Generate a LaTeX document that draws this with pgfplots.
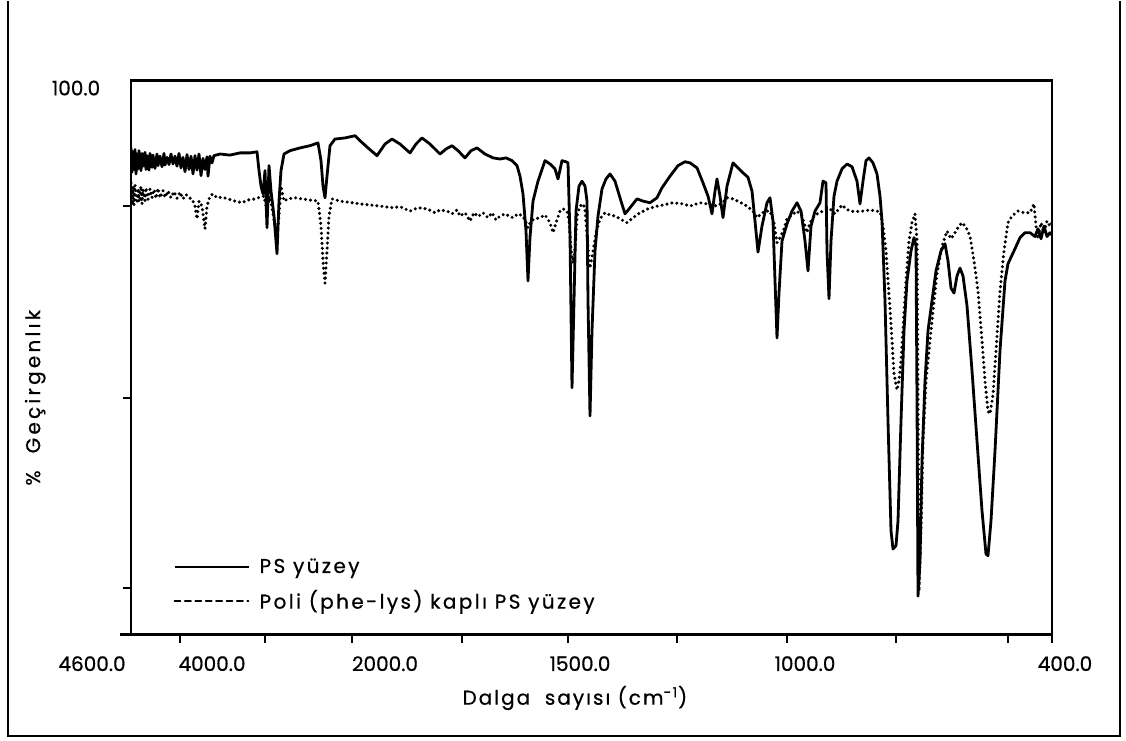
\documentclass[border=0pt]{standalone}
\usepackage{fontspec}
\setmainfont{Poppins}[FakeBold=0.7]
\usepackage{pgfplots}
\pgfplotsset{compat=1.18}
\usepackage{pgfplotstable}

% x: position along the chart's wavenumber scale (4600 at 131, 400 at 1052)
% T: transmittance, per cent
\pgfplotstableread{
x T
131 88.0
132 83.5
133 87.2
134 84.0
135 87.6
136 83.2
137 86.8
138 84.1
139 87.4
141 83.8
142 86.9
143 84.6
145 87.1
146 84.0
147 86.5
149 83.9
150 86.9
152 84.4
153 86.6
155 84.2
157 86.8
158 84.7
160 86.4
162 84.5
164 86.9
165 84.8
167 86.2
169 84.9
171 86.8
173 85.0
175 86.4
177 84.6
179 86.9
181 84.3
183 86.2
185 83.6
187 86.7
189 84.0
191 86.4
193 83.2
195 86.5
197 83.9
199 86.8
201 82.9
203 86.0
205 84.0
207 86.3
208 82.8
210 86.4
212 85.2
214 86.5
220 86.8
230 86.6
240 87.0
250 87.0
257 87.2
259 83.8
261 81.0
263 79.6
265 83.8
267 73.5
269 84.7
271 80.1
274 75.6
277 68.8
279 78.3
281 83.8
284 86.8
290 87.4
300 87.9
310 88.3
318 88.8
321 85.6
323 81.0
325 78.9
327 82.8
330 88.3
335 89.5
345 89.7
355 90.1
360 89.2
368 87.9
377 86.5
385 88.6
392 89.5
400 88.6
410 87.0
416 88.6
422 89.7
430 88.6
440 86.8
446 87.7
452 88.3
458 87.4
465 86.1
471 87.4
477 87.9
485 86.8
493 86.1
500 85.9
506 86.1
512 85.6
517 84.7
520 82.8
523 79.6
526 72.9
528 63.9
530 71.8
533 78.3
538 81.9
545 85.6
550 85.0
555 84.1
558 82.3
562 85.6
566 85.4
568 85.2
570 71.8
572 44.6
574 60.3
576 76.5
579 81.0
582 81.9
585 81.0
587 78.3
588 60.3
590 39.5
592 54.9
595 69.3
598 75.6
602 80.5
606 82.3
610 83.2
615 81.9
620 78.9
625 76.0
630 77.1
637 78.7
643 78.3
650 78.0
657 78.9
662 80.7
670 82.8
678 84.7
685 85.4
690 85.2
697 84.3
703 81.6
708 79.2
712 76.0
715 80.1
717 82.3
720 79.2
723 75.3
727 81.0
733 85.2
738 84.3
743 83.4
748 82.6
752 80.1
755 74.7
758 69.1
762 73.8
767 78.0
770 78.9
773 74.7
775 63.9
777 53.6
779 61.7
782 71.1
787 74.2
792 76.5
797 78.0
801 76.5
805 71.1
808 65.7
811 73.8
815 76.5
820 78.0
823 81.9
826 81.6
827 69.3
829 60.7
831 71.1
834 79.2
837 81.9
842 84.1
847 85.0
852 84.5
857 81.9
860 77.8
863 81.9
866 85.6
869 86.1
873 85.2
877 83.2
880 79.2
882 74.7
885 60.3
888 38.6
891 18.8
893 15.5
896 16.1
898 20.6
901 38.6
904 54.9
907 63.9
911 69.3
914 71.7
916 70.2
917 42.2
918 7.0
920 13.4
922 31.4
925 45.8
928 54.9
932 60.3
936 65.7
941 69.3
945 70.6
948 67.5
951 62.6
954 61.7
957 64.8
960 66.2
963 64.8
967 59.4
972 47.7
977 35.0
982 22.4
986 14.6
988 14.3
991 20.6
995 33.2
1000 51.3
1005 63.9
1008 67.0
1015 69.7
1020 71.7
1025 72.6
1030 72.6
1035 71.9
1038 73.3
1041 71.5
1044 73.8
1047 71.9
1050 72.6
1052 72.2
}\surfacePS

\pgfplotstableread{
x T
131 81.6
132 78.0
133 80.9
134 77.6
135 81.2
137 77.9
138 80.6
139 78.2
141 81.0
142 77.8
143 80.4
145 78.4
146 80.7
148 78.6
150 80.5
152 78.9
154 80.4
156 78.8
158 80.6
160 78.9
163 80.2
165 79.0
168 80.1
171 78.9
174 80.0
177 78.8
180 79.9
183 78.7
186 79.5
189 78.9
192 78.7
195 77.4
197 75.1
199 78.3
202 77.4
205 73.3
207 77.4
210 79.2
213 79.6
217 78.9
222 79.0
228 78.7
235 78.3
242 78.0
248 78.5
255 78.7
260 79.0
264 79.2
267 76.5
269 79.2
272 77.1
275 73.8
277 72.4
279 75.6
281 81.0
284 78.3
288 78.7
295 78.9
302 78.7
310 78.5
318 78.3
321 73.8
323 67.5
325 63.5
327 69.3
329 75.6
332 78.7
340 78.3
352 78.0
360 77.8
370 77.6
380 77.4
393 77.1
400 77.3
410 76.5
418 77.1
427 76.9
435 76.2
440 76.7
447 76.5
452 76.0
457 76.7
460 75.6
465 76.2
470 74.7
474 76.2
478 75.5
483 76.2
488 75.3
492 76.2
496 74.9
500 75.6
505 76.0
510 75.5
513 75.3
518 76.0
523 75.6
526 74.4
528 73.5
531 74.7
535 75.1
540 75.3
545 75.8
550 74.4
553 72.6
556 74.4
560 76.5
563 76.9
567 76.5
569 74.7
571 69.7
573 67.1
575 69.7
577 75.6
580 77.4
583 77.8
585 76.9
587 72.2
589 67.5
590 66.2
593 69.3
596 72.6
600 75.1
605 76.2
610 75.8
615 75.6
620 75.1
627 74.4
633 75.3
640 76.2
648 76.9
655 77.3
663 77.6
673 78.0
683 77.8
690 77.4
700 78.0
707 77.8
717 77.4
723 78.1
727 78.9
733 78.7
740 78.1
747 77.4
753 76.5
757 75.3
760 75.8
765 76.5
770 76.5
774 74.4
777 70.8
780 71.7
784 73.3
787 75.1
792 75.8
797 76.5
802 75.6
805 73.8
807 72.6
810 74.4
815 75.8
823 76.5
830 76.9
835 76.0
842 77.6
846 76.9
850 76.5
856 76.4
863 76.5
870 76.7
876 76.5
880 76.4
883 73.8
886 69.3
888 63.9
890 59.0
892 53.2
894 47.1
897 44.2
899 45.8
901 49.5
903 55.1
906 63.9
909 71.1
912 74.4
915 76.0
917 71.1
918 42.2
919 7.9
921 18.8
923 35.0
926 45.8
930 53.1
934 60.3
937 65.2
942 70.2
947 72.9
951 71.5
955 72.6
959 73.8
962 74.4
966 73.6
970 72.0
974 67.5
978 62.1
982 53.1
985 45.8
988 40.4
990 39.9
993 43.3
996 51.3
1000 62.1
1004 69.3
1008 74.4
1012 75.6
1018 76.5
1024 76.2
1030 76.2
1034 77.8
1036 73.8
1038 71.5
1041 74.4
1044 72.6
1047 74.7
1050 73.8
1052 74.4
}\coatedPS

\begin{document}
\begin{tikzpicture}
\begin{axis}[
  scale only axis,
  width=460.5pt, height=277pt,
  xmin=131, xmax=1052, ymin=0, ymax=100,
  clip mode=individual,
  axis line style={line width=1.4pt},
  xtick={180,265,352,462,568,677,787,896,1008,1052},
  xticklabels={},
  ytick={8.5,42.8,77.4},
  yticklabels={},
  xtick pos=bottom, ytick pos=left,
  tick align=outside,
  major tick length=4pt,
  tick style={line width=1pt, black},
  xlabel={\addfontfeatures{LetterSpace=10}Dalga\ \ sayısı (cm\textsuperscript{-1})},
  xlabel style={at={(axis description cs:0.482,-0.114)}, anchor=center, font=\fontsize{10}{12}\selectfont},
  ylabel={\addfontfeatures{LetterSpace=16}\%\ \ Geçirgenlık},
  ylabel style={at={(axis description cs:-0.104,0.428)}, anchor=center, font=\fontsize{10}{12}\selectfont},
  legend style={draw=none, fill=none, at={(axis cs:173,9.0)}, anchor=west,
    inner xsep=0pt, inner ysep=0pt, row sep=3pt,
    font=\fontsize{10}{12}\selectfont\addfontfeatures{LetterSpace=12},
    nodes={inner ysep=2pt, inner xsep=5pt}},
  legend cell align=left,
]
% page extent and the frame round the figure
\path (rel axis cs:-0.14224,-0.19134) rectangle (rel axis cs:1.08035,1.14440);
\draw[line width=0.9pt] (rel axis cs:-0.1336,1.1444) -- (rel axis cs:-0.1336,-0.1823)
  -- (rel axis cs:1.0738,-0.1823) -- (rel axis cs:1.0738,1.1444);
\draw[line width=1.4pt] (rel axis cs:-0.012,0) -- (rel axis cs:0,0);

\addplot[black, line width=1.4pt, line join=round,
  legend image code/.code={\draw[black, line width=1.1pt] (0pt,0pt) -- (37pt,0pt);}]
  table[x=x, y=T] {\surfacePS};
\addlegendentry{PS yüzey}

\addplot[black, line width=1.7pt, line cap=round, dash pattern=on 0pt off 2.5pt,
  legend image code/.code={\draw[black, line width=0.9pt, dash pattern=on 3pt off 2.2pt] (0pt,0pt) -- (37pt,0pt);}]
  table[x=x, y=T] {\coatedPS};
\addlegendentry{Poli (phe-lys) kaplı PS yüzey}

% wavenumber labels along the bottom and the top transmittance label
\begin{scope}[font=\fontsize{10}{12}\selectfont]
\node at (rel axis cs:-0.0423,-0.052) {4600.0};
\node at (rel axis cs:0.0880,-0.052) {4000.0};
\node at (rel axis cs:0.2758,-0.052) {2000.0};
\node at (rel axis cs:0.4875,-0.052) {1500.0};
\node at (rel axis cs:0.7318,-0.052) {1000.0};
\node at (rel axis cs:1.0141,-0.052) {400.0};
\node at (rel axis cs:-0.0597,0.987) {100.0};
\end{scope}
\end{axis}
\end{tikzpicture}
\end{document}
